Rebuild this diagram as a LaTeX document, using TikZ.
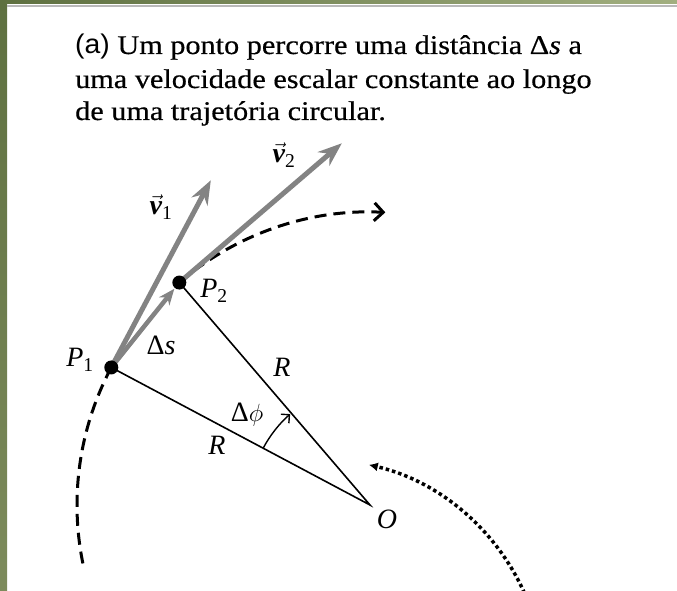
\documentclass[tikz,border=0pt]{standalone}
\usepackage{fontspec}
\setmainfont{Liberation Serif}
\newfontfamily\titlefont[FakeStretch=1.12,FakeBold=0.5]{Liberation Serif}
\newfontfamily\labsans[FakeStretch=1.05]{Liberation Sans}
\usetikzlibrary{arrows.meta,calc}
\definecolor{velgray}{HTML}{838383}
\definecolor{greenA}{HTML}{5E7040}
\definecolor{greenB}{HTML}{7D8B5C}
\definecolor{greenC}{HTML}{A2AF80}
\begin{document}
\begin{tikzpicture}[x=1pt,y=1pt,
  title/.style={anchor=base west, inner sep=0pt, font=\titlefont\fontsize{27}{33}\selectfont},
  lab/.style={inner sep=0pt, font=\fontsize{28}{30}\selectfont},
  radiusline/.style={line width=1.6pt},
  pathdash/.style={line width=3pt, dash pattern=on 12pt off 7pt},
  vel/.style={line width=5pt, draw=velgray, -{Stealth[length=24pt,width=18pt,inset=8pt,fill=velgray]}},
  dsarrow/.style={line width=4.5pt, draw=velgray, shorten >=8pt, -{Stealth[length=16pt,width=13pt,inset=5pt,fill=velgray]}},
  dot/.style={circle, fill=black, inner sep=0pt, minimum size=14pt},
  dotted path/.style={line width=3.5pt, dash pattern=on 3.5pt off 3pt},
]
\useasboundingbox (0,0) rectangle (677,590);
% frame
\shade[top color=greenA, bottom color=greenB] (0,0) rectangle (7,590);
\shade[left color=greenA, right color=greenC] (0,586) rectangle (677,590);
\fill[gray!55] (7,583) rectangle (677,585);

% title
\node[title] (t1) at (75,536) {{\labsans (a)} Um ponto percorre uma distância Δ\textit{s} a};
\node[title] (t2) at (75,502) {uma velocidade escalar constante ao longo};
\node[title] (t3) at (75,470) {de uma trajetória circular.};

% geometry
\coordinate (O) at (370,85);
\coordinate (P1) at ($(O)+(152:293)$);
\coordinate (P2) at ($(O)+(130.6:293)$);
\coordinate (V1) at ($(P1)+(62:212)$);
\coordinate (V2) at ($(P2)+(40.6:214)$);
\coordinate (A0) at ($(O)+(152:121)$);
\coordinate (D0) at ($(318,-95)+(24:226)$);

% circular path (dashed)
\draw[pathdash, -{Straight Barb[length=9pt,width=18pt,line width=3pt]}] (P2) arc[start angle=130.6, end angle=87, radius=293];
\draw[pathdash] (P1) arc[start angle=152, end angle=192, radius=293];

% radii
\draw[radiusline] (P1) -- (O) -- (P2);
\draw[line width=1.4pt, -{Straight Barb[length=6pt,width=12pt]}] (A0) arc[start angle=152, end angle=131.3, radius=121];

% rotation sense (dotted)
\draw[dotted path, -{Latex[length=9pt,width=9pt]}] (D0) arc[start angle=24, end angle=77, radius=226];

% velocity vectors and displacement
\draw[vel] (P1) -- (V1);
\draw[vel] (P2) -- (V2);
\draw[dsarrow] (P1) -- (P2);

% points
\node[dot] (p1) at (P1) {};
\node[dot] (p2) at (P2) {};

% labels
\node[lab] (lP1) at (80,230) {\textit{P}\textsubscript{1}};
\node[lab] (lP2) at (214,299) {\textit{P}\textsubscript{2}};
\node[lab] (lds) at (161,245) {Δ\textit{s}};
\node[lab] (lR1) at (282,223) {\textit{R}};
\node[lab] (lR2) at (217,145) {\textit{R}};
\node[lab] (ldphi) at (247,175) {Δ$\phi$};
\node[lab] (lO) at (387,71) {\textit{O}};
\node[lab] (lv1) at (161,383) {$\vec{\mbox{\bfseries\itshape v}}$\textsubscript{1}};
\node[lab] (lv2) at (284,435) {$\vec{\mbox{\bfseries\itshape v}}$\textsubscript{2}};
\end{tikzpicture}
\end{document}
